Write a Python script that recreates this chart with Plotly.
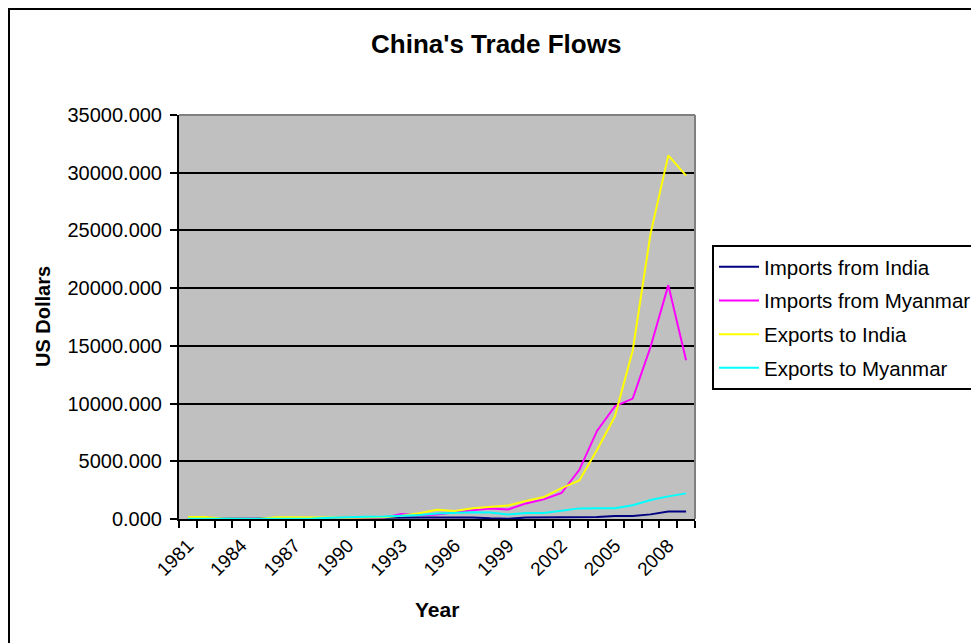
import plotly.graph_objects as go

years = list(range(1981, 2010))

imports_india = [5, 5, 10, 10, 10, 10, 20, 60, 80, 100, 110, 110, 120, 130, 130, 140, 140,
                 60, 20, 120, 130, 130, 160, 180, 250, 250, 400, 650, 650]
imports_myanmar = [170, 160, 10, 20, 30, 40, 60, 70, 60, 80, 90, 120, 430, 330, 400, 610, 760,
                   900, 830, 1350, 1700, 2250, 4260, 7650, 9770, 10430, 14900, 20260, 13750]
exports_india = [180, 170, 20, 20, 30, 160, 170, 150, 140, 100, 140, 160, 280, 500, 800, 700, 930,
                 1020, 1160, 1560, 1900, 2670, 3340, 6000, 8900, 14600, 24700, 31500, 29750]
exports_myanmar = [20, 20, 10, 10, 20, 20, 20, 40, 100, 170, 200, 220, 260, 350, 480, 560, 580,
                   560, 400, 520, 530, 720, 920, 930, 930, 1200, 1650, 1960, 2220]

series_names = ["Imports from India", "Imports from Myanmar", "Exports to India", "Exports to Myanmar"]
series_values = [imports_india, imports_myanmar, exports_india, exports_myanmar]
series_colors = ["#000080", "#FF00FF", "#FFFF00", "#00FFFF"]

label_years = years[::3]
label_text = [str(y) for y in label_years]

FONT = "Arial, Liberation Sans, sans-serif"

fig = go.Figure()
for i, (name, vals, col) in enumerate(zip(series_names, series_values, series_colors)):
    fig.add_trace(go.Scatter(x=years, y=vals, mode="lines", name=name,
                             line=dict(color=col, width=2), legendgroup=f"g{i}"))

# plot area pixel geometry
L, R, T, B = 179, 695, 115, 519
W, H = R - L, B - T

def px(xp):
    return (xp - L) / W

def py(yp):
    return (B - yp) / H

fig.update_layout(
    width=971, height=643,
    margin=dict(l=L, r=971 - R, t=T, b=643 - B, autoexpand=False),
    paper_bgcolor="white", plot_bgcolor="#C0C0C0",
    font=dict(family=FONT, color="black"),
    showlegend=True,
    legend=dict(x=px(712), y=py(245), xanchor="left", yanchor="top",
                bgcolor="white", bordercolor="black", borderwidth=2,
                font=dict(size=20.5, family=FONT, color="black"),
                traceorder="grouped", tracegroupgap=4, itemwidth=40),
    xaxis=dict(range=[1980.5, 2009.5], tickmode="array", tickvals=label_years, ticktext=label_text,
               tickangle=-45, ticks="", tickfont=dict(size=19, family=FONT),
               showgrid=False, zeroline=False, showline=True, linecolor="black", linewidth=2,
               ticklabelstandoff=6,
               minor=dict(tick0=1980.5, dtick=1, ticks="outside", ticklen=7, tickwidth=2,
                          tickcolor="black", showgrid=False)),
    yaxis=dict(range=[0, 35000], dtick=5000, tick0=0, tickformat=".3f",
               ticks="outside", ticklen=7, tickwidth=1.5, tickcolor="black",
               tickfont=dict(size=20, family=FONT), ticklabelstandoff=4,
               showgrid=True, gridcolor="black", gridwidth=2, zeroline=False,
               showline=True, linecolor="black", linewidth=2),
    shapes=[
        dict(type="line", xref="paper", yref="paper", x0=0, x1=1, y0=1, y1=1,
             line=dict(color="#808080", width=2), layer="above"),
        dict(type="line", xref="paper", yref="paper", x0=1, x1=1, y0=0, y1=1,
             line=dict(color="#808080", width=2), layer="above"),
        dict(type="rect", xref="paper", yref="paper", x0=px(9), x1=px(1100), y0=py(800), y1=py(9),
             line=dict(color="black", width=2), fillcolor="rgba(0,0,0,0)", layer="above"),
    ],
    annotations=[
        dict(text="<b>China's Trade Flows</b>", xref="paper", yref="paper", x=px(496), y=py(44),
             xanchor="center", yanchor="middle", showarrow=False,
             font=dict(size=26, family=FONT, color="black")),
        dict(text="<b>US Dollars</b>", xref="paper", yref="paper", x=px(43), y=py(317),
             xanchor="center", yanchor="middle", showarrow=False, textangle=-90,
             font=dict(size=20, family=FONT, color="black")),
        dict(text="<b>Year</b>", xref="paper", yref="paper", x=px(437), y=py(609),
             xanchor="center", yanchor="middle", showarrow=False,
             font=dict(size=21, family=FONT, color="black")),
    ],
)

fig.write_html("out.html")
